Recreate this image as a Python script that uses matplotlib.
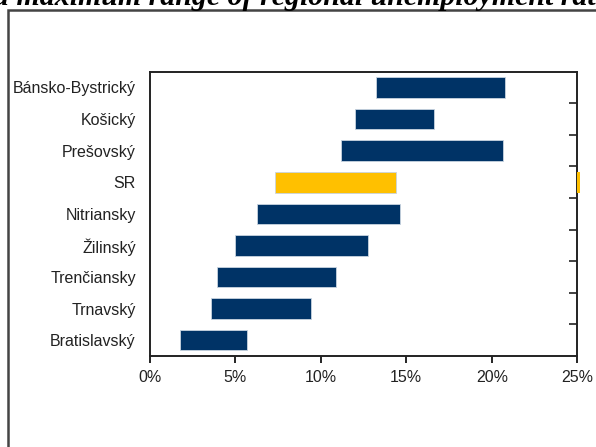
import matplotlib
matplotlib.use("Agg")
import matplotlib.pyplot as plt
from matplotlib.patches import Rectangle
from matplotlib.ticker import FuncFormatter, FixedLocator

regions = ["Bánsko-Bystrický", "Košický", "Prešovský", "SR", "Nitriansky",
           "Žilinský", "Trenčiansky", "Trnavský", "Bratislavský"]
min_rate = [13.22, 12.0, 11.16, 7.35, 6.3, 5.0, 3.92, 3.6, 1.77]
max_rate = [20.8, 16.64, 20.68, 14.42, 14.62, 12.78, 10.88, 9.45, 5.71]
highlight = "SR"
x_ticks = [0, 5, 10, 15, 20, 25]

navy = "#003366"
gold = "#FFC000"

plt.rcParams['font.family'] = ['Liberation Sans', 'DejaVu Sans']

fig = plt.figure(figsize=(5.96, 4.47), dpi=100)

# outer frame
W, H = 596, 447
fig.patches.append(Rectangle((8 / W, -0.1), 1.2, 1 - 10 / H + 0.1, transform=fig.transFigure,
                             fill=False, edgecolor="#444444", linewidth=1.8))
# title (cut off at top)
fig.text(-6 / W, 1 - 5 / H, "d maximum range of regional unemployment rate",
         family=['Liberation Serif', 'DejaVu Serif'], fontweight='bold', fontstyle='italic',
         fontsize=21.5, ha='left', va='baseline')

ax = fig.add_axes([149.7 / W, 1 - 356 / H, (577.3 - 149.7) / W, (356 - 71.7) / H])

n = len(regions)
ypos = list(range(n - 1, -1, -1))
for y, name, lo, hi in zip(ypos, regions, min_rate, max_rate):
    c = gold if name == highlight else navy
    ax.barh(y, hi - lo, left=lo, height=0.65, color=c, edgecolor="#c8d4e0", linewidth=0.6)
    if name == highlight:
        ax.barh(y, 0.15, left=25, height=0.65, color=c, clip_on=False, zorder=5)

ax.set_xlim(0, 25)
ax.set_ylim(-0.5, n - 0.5)
ax.set_yticks(ypos)
ax.set_yticklabels(regions, fontsize=11.5, color="#222222")
ax.tick_params(axis='y', length=0, pad=10)
ax.xaxis.set_major_locator(FixedLocator(x_ticks))
ax.xaxis.set_major_formatter(FuncFormatter(lambda v, p: f"{v:.0f}%"))
ax.tick_params(axis='x', direction='out', length=5, width=1.2, labelsize=11.5,
               labelcolor="#222222", pad=5)

for s in ax.spines.values():
    s.set_color("#222222")
    s.set_linewidth(1.4)

ax2 = ax.twinx()
ax2.set_ylim(-0.5, n - 0.5)
ax2.set_yticks([i + 0.5 for i in range(n - 1)])
ax2.set_yticklabels([])
ax2.tick_params(axis='y', direction='in', length=6, width=1.2, right=True, left=False,
                color="#222222")
for s in ax2.spines.values():
    s.set_visible(False)

fig.savefig("out.png", dpi=100)
